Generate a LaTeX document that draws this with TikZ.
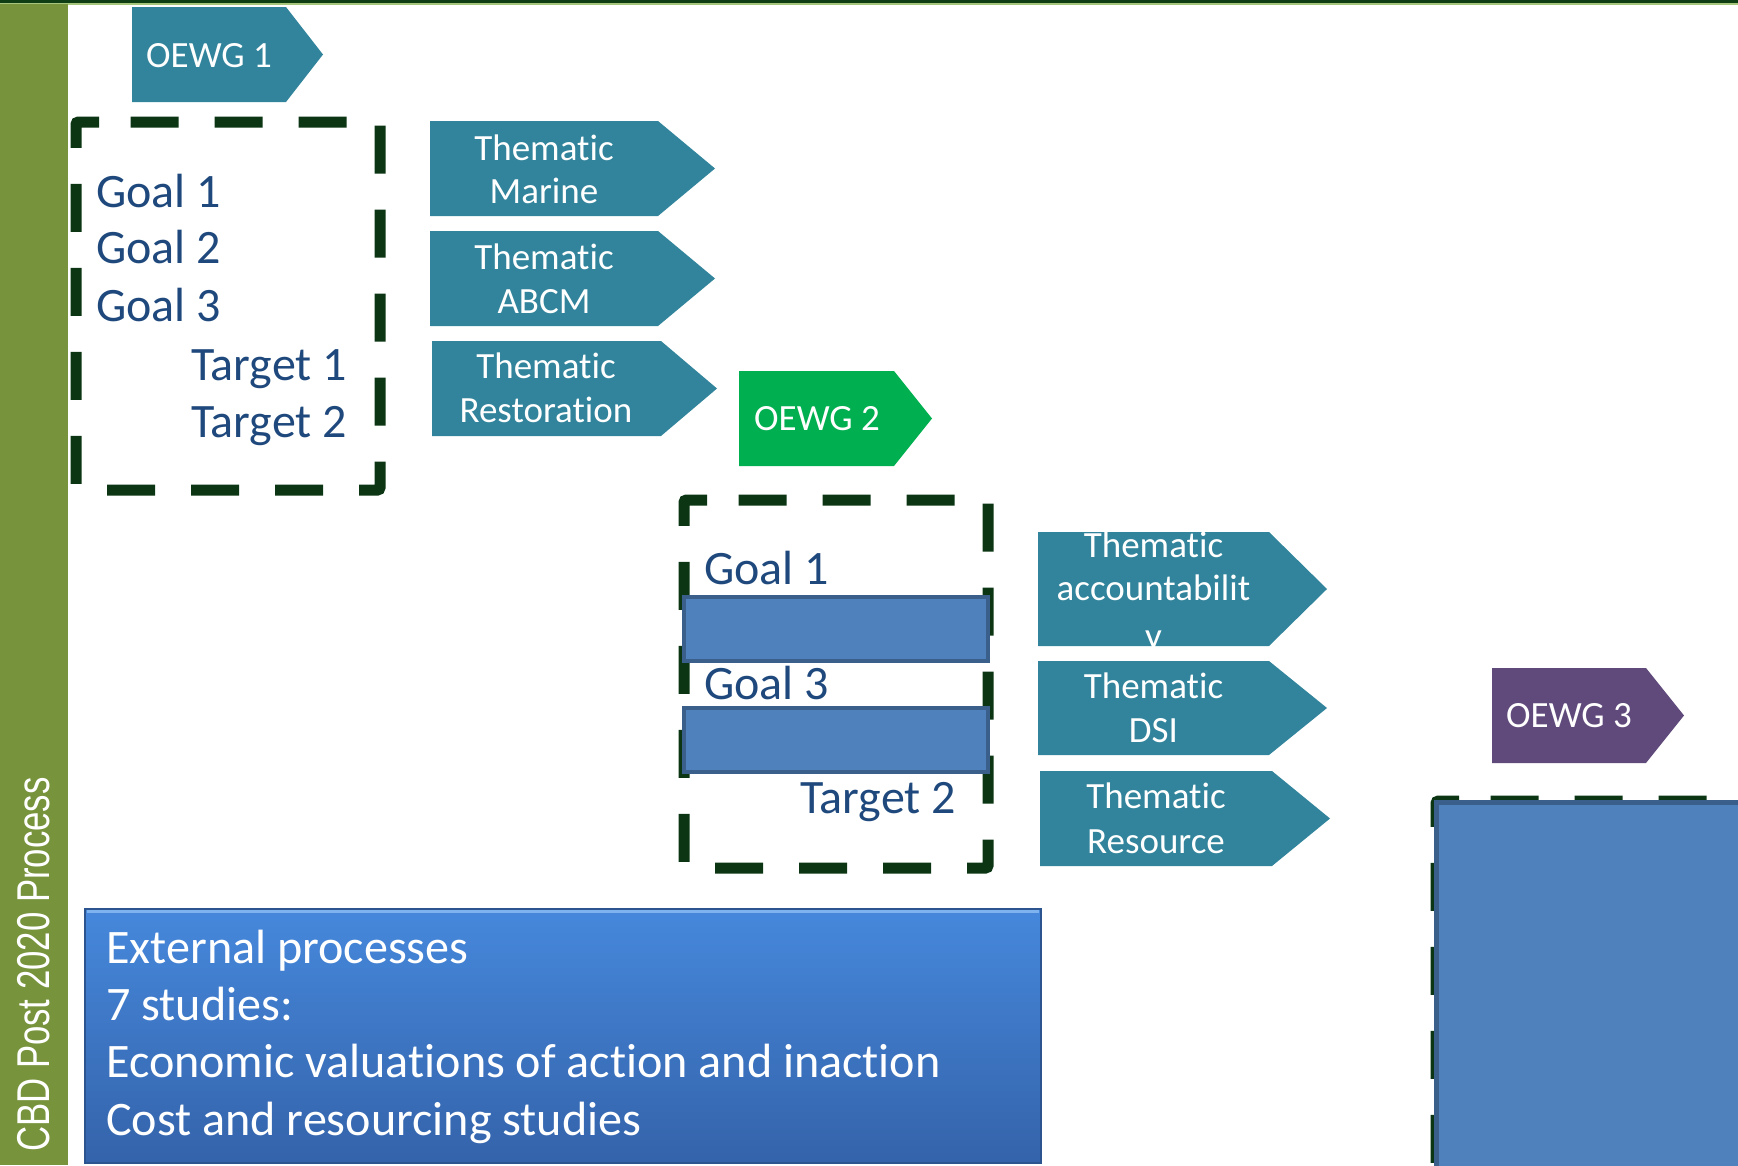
\documentclass[tikz,border=0pt]{standalone}
\usepackage{fontspec}
\setmainfont{Carlito}[Ligatures={NoCommon,NoContextual}]
\newfontfamily\arialf{Liberation Sans}
\definecolor{tealc}{HTML}{31849B}
\definecolor{oegreen}{HTML}{00B050}
\definecolor{oepurple}{HTML}{604A7B}
\definecolor{olivebar}{HTML}{77933C}
\definecolor{dashgreen}{HTML}{0B3513}
\definecolor{txtblue}{HTML}{1F497D}
\definecolor{rectblue}{HTML}{4F81BD}
\definecolor{rectedge}{HTML}{3A5F8B}
\definecolor{topdark}{HTML}{0F3D14}
\definecolor{toplight}{HTML}{A6C67C}
\definecolor{exttop}{HTML}{4688DC}
\definecolor{extbot}{HTML}{3463AA}
\definecolor{extedge}{HTML}{2C5590}
\definecolor{exthi}{HTML}{7FB3F0}
\newcommand\dbx[2]{\draw[dbox] ({#1+24},#2) -- ({#1+304},#2) -- ({#1+304},{#2+368}) -- (#1,{#2+368}) -- (#1,#2) -- cycle;}
\newcommand\chev[6]{\fill[#6] (#1,#2) -- (#3,#2) -- (#5,{(#2+#4)/2}) -- (#3,#4) -- (#1,#4) -- cycle;}
\begin{document}
\begin{tikzpicture}[x=1pt,y=-1pt,
  dbox/.style={draw=dashgreen, line width=11pt, dash pattern=on 48pt off 36pt, dash phase=56pt, rounded corners=2.5pt},
  brect/.style={draw=rectedge, fill=rectblue, line width=4.5pt},
  goal/.style={anchor=base west, inner sep=0pt, text=txtblue, font=\fontsize{48}{56}\selectfont},
  them/.style={anchor=base, inner sep=0pt, text=white, font=\fontsize{37}{43}\selectfont},
  ext/.style={anchor=base west, inner sep=0pt, text=white, font=\fontsize{48.1}{57}\selectfont}]
\useasboundingbox (0,0) rectangle (1738,1165);
\begin{scope}
\clip (0,0) rectangle (1738,1165);
% top lines and side bar
\fill[topdark] (0,0) rectangle (1738,3);
\fill[toplight] (0,3) rectangle (1738,5);
\fill[olivebar] (0,3.5) rectangle (68,1165);
\node[anchor=base west, rotate=90, inner sep=0pt, text=white, font=\arialf\fontsize{46}{46}\selectfont] (side) at (49,1152) {\scalebox{0.755}[1]{CBD Post 2020 Process}};
% OEWG 1 and box 1
\chev{132}{7}{286}{102}{323}{tealc}
\node[them] (oewg1) at (209,67) {OEWG 1};
\dbx{76}{122}
\node[goal] (g11) at (96,207) {Goal 1};
\node[goal] (g12) at (96,263) {Goal 2};
\node[goal] (g13) at (96,321) {Goal 3};
\node[goal] (t11) at (191,380) {Target 1};
\node[goal] (t12) at (191,437) {Target 2};
% thematic group 1
\chev{430}{121}{658}{216}{715}{tealc}
\node[them] (mar1) at (544,160) {Thematic};
\node[them] (mar2) at (544,203) {Marine};
\chev{430}{231}{658}{326}{715}{tealc}
\node[them] (abc1) at (544,269) {Thematic};
\node[them] (abc2) at (544,313) {ABCM};
\chev{432}{341}{661}{436}{717}{tealc}
\node[them] (res1) at (546,378) {Thematic};
\node[them] (res2) at (546,422) {Restoration};
% OEWG 2 and box 2
\chev{739}{371}{894}{466}{932}{oegreen}
\node[them] (oewg2) at (817,430) {OEWG 2};
\dbx{684}{500}
\draw[brect] (684,597) rectangle (988,661);
\draw[brect] (684,708) rectangle (988,772);
\node[goal] (g21) at (704,584) {Goal 1};
\node[goal] (g23) at (704,699) {Goal 3};
\node[goal] (t22) at (800,813) {Target 2};
% thematic group 2
\chev{1038}{532}{1269}{646}{1327}{tealc}
\node[them] (acc1) at (1153.5,557) {Thematic};
\node[them] (acc2) at (1153.5,600) {accountabilit};
\node[them] (acc3) at (1153.5,648) {y};
\chev{1038}{661}{1269}{755}{1327}{tealc}
\node[them] (dsi1) at (1153.5,698) {Thematic};
\node[them] (dsi2) at (1153.5,742) {DSI};
\chev{1040}{771}{1272}{866}{1330}{tealc}
\node[them] (rsc1) at (1156,808) {Thematic};
\node[them] (rsc2) at (1156,853) {Resource};
% OEWG 3 and box 3
\chev{1492}{668}{1646}{763}{1684}{oepurple}
\node[them] (oewg3) at (1569,727) {OEWG 3};
\dbx{1436}{801}
\draw[draw=rectedge, fill=rectblue, line width=5pt] (1436,802.5) rectangle (1800,1200);
% external processes
\shade[top color=exttop, bottom color=extbot] (85,909) rectangle (1041,1163);
\draw[exthi, line width=3pt] (87,911.5) -- (1039,911.5);
\draw[extedge, line width=1.5pt] (85,909) rectangle (1041,1163);
\node[ext] (e1) at (106,963) {External processes};
\node[ext] (e2) at (106,1020) {7 studies:};
\node[ext] (e3) at (106,1077) {Economic valuations of action and inaction};
\node[ext] (e4) at (106,1135) {Cost and resourcing studies};
\end{scope}
\end{tikzpicture}
\end{document}
